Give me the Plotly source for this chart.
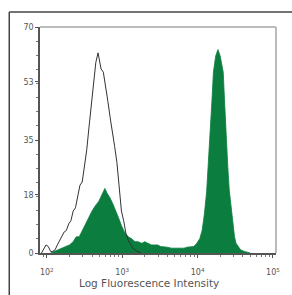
import plotly.graph_objects as go

# Control histogram (open black outline): log10 intensity, counts
ctrl_log = [1.93, 1.96, 1.99, 2.02, 2.05, 2.08, 2.11, 2.14, 2.17, 2.20, 2.23, 2.26, 2.29, 2.32,
            2.35, 2.38, 2.41, 2.44, 2.47, 2.50, 2.53, 2.56, 2.59, 2.62, 2.65, 2.68, 2.70, 2.72,
            2.75, 2.78, 2.81, 2.84, 2.87, 2.90, 2.93, 2.96, 2.99, 3.02, 3.05, 3.08, 3.11, 3.14,
            3.17, 3.20, 3.25]
ctrl_cnt = [0, 1.5, 2.5, 2, 0.5, 0.5, 1, 2.5, 4, 5, 6.5, 7, 9, 10,
            13, 14, 18, 21, 22, 27, 32, 39, 46, 54, 59, 62, 60, 57,
            56, 52, 47, 42, 38, 33, 28, 20, 13, 10, 6, 4, 2.5, 1.5,
            1, 0.5, 0]

# Stained sample (filled green)
stain_log = [2.05, 2.10, 2.15, 2.20, 2.25, 2.30, 2.35, 2.39, 2.43, 2.47, 2.52, 2.56, 2.60, 2.64,
             2.69, 2.73, 2.77, 2.80, 2.84, 2.88, 2.91, 2.95, 2.99, 3.03, 3.08, 3.12, 3.17, 3.21,
             3.26, 3.30, 3.34, 3.39, 3.43, 3.47, 3.51, 3.56, 3.60, 3.65, 3.69, 3.73, 3.78, 3.82,
             3.86, 3.90, 3.95, 3.99, 4.03, 4.06, 4.09, 4.12, 4.14, 4.16, 4.19, 4.21, 4.24, 4.27,
             4.30, 4.34, 4.36, 4.38, 4.40, 4.42, 4.45, 4.47, 4.49, 4.51, 4.54, 4.57, 4.62, 4.70]
stain_cnt = [0, 0.5, 1, 1.5, 2, 2.5, 3.5, 5, 5, 7, 9.5, 11, 13, 14.5,
             16, 18, 20, 18.5, 17, 15, 13.5, 11, 8.5, 6.5, 5, 4.5, 3.5, 3.5,
             3, 3.5, 3, 2.5, 2.5, 2.5, 2, 2, 1.8, 1.5, 1.5, 1.5, 1.5, 1.5,
             1.8, 1.8, 2, 3, 4.5, 7, 12, 19, 26, 35, 47, 56, 61, 63,
             61, 56, 46, 35, 27, 19.5, 13, 8, 5, 3, 2, 1, 0.5, 0]

x_tick_exp = [2, 3, 4, 5]
y_ticks = [0, 18, 35, 53, 70]
x_title = "Log Fluorescence Intensity"

fig = go.Figure()
fig.add_trace(go.Scatter(
    x=[10 ** v for v in stain_log], y=stain_cnt, mode="lines",
    line=dict(color="#0b7d3e", width=0.8), fill="tozeroy", fillcolor="#0b7d3e",
    hoverinfo="skip"))
fig.add_trace(go.Scatter(
    x=[10 ** v for v in ctrl_log], y=ctrl_cnt, mode="lines",
    line=dict(color="#333333", width=1), hoverinfo="skip"))

minor_x = [m * 10 ** e for e in [1, 2, 3, 4] for m in range(2, 10)]

fig.update_layout(
    width=292, height=295,
    margin=dict(l=40, r=14, t=27, b=42),
    paper_bgcolor="white", plot_bgcolor="white",
    showlegend=False,
    font=dict(family="DejaVu Sans", color="#555555", size=8),
    xaxis=dict(
        type="log", range=[1.91, 5.04],
        tickvals=[10 ** e for e in x_tick_exp],
        ticktext=["10<sup>%d</sup>" % e for e in x_tick_exp],
        ticks="outside", ticklen=3, tickcolor="#555555",
        ticklabelstandoff=8,
        minor=dict(tickvals=minor_x, ticks="outside", ticklen=2, tickcolor="#777777"),
        showgrid=False, zeroline=False,
        showline=True, linecolor="#555555", linewidth=1.5,
        tickfont=dict(size=8, color="#555555"),
    ),
    yaxis=dict(
        range=[0, 70],
        tickvals=y_ticks,
        ticks="outside", ticklen=3, tickcolor="#555555",
        minor=dict(tickvals=[v * 17.5 / 4 for v in range(0, 17)], ticks="outside", ticklen=2,
                   tickcolor="#777777"),
        showgrid=False, zeroline=False,
        showline=True, linecolor="#555555", linewidth=1.5,
        tickfont=dict(size=8, color="#555555"),
    ),
    annotations=[
        dict(text=x_title, xref="paper", yref="paper", x=110 / 238, y=-30 / 226,
             xanchor="center", yanchor="middle", showarrow=False,
             font=dict(size=10.5, color="#555555")),
    ],
    shapes=[
        # plot-area top and right light frame
        dict(type="line", xref="paper", yref="paper", x0=0, x1=1, y0=1, y1=1,
             line=dict(color="#bbbbbb", width=2)),
        dict(type="line", xref="paper", yref="paper", x0=1, x1=1, y0=0, y1=1,
             line=dict(color="#bbbbbb", width=2)),
        # outer frame (top and left)
        dict(type="line", xref="paper", yref="paper", x0=-31 / 238, x1=1.2, y0=1 + 15 / 226, y1=1 + 15 / 226,
             line=dict(color="#444444", width=1.5)),
        dict(type="line", xref="paper", yref="paper", x0=-31 / 238, x1=-31 / 238, y0=-0.3, y1=1 + 15 / 226,
             line=dict(color="#444444", width=1.5)),
    ],
)

fig.write_html("out.html", config={"displayModeBar": False},
               post_script="document.body.style.margin='0';document.body.style.overflow='hidden';")
